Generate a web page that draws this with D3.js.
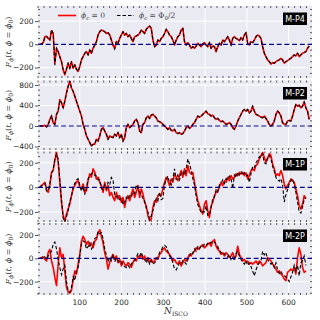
<!DOCTYPE html>
<html>
  <head>
    <script src="https://d3js.org/d3.v7.min.js"></script>
    <style>
      body { margin: 0; background: #fff; }
      text { fill: #262626; }
    </style>
  </head>
  <body>
    <div id="chart"></div>
    <script>
      // sampling of N_ISCO shared by every series
      const nStart = 4.5,
        nStep = 3.98;

      // M-P4
      const p4Red = [0,3,14,66,66,51,37,117,94,-163, -34,-63,-106,-149,-220,-263,-214,-163,-206,-149, -206,-177,-214,-234,-191,-134,-106,-77,-63,-91, -49,-77,-34,-6,23,80,109,123,117,109, 94,100,80,37,-6,-34,23,9,51,80, 109,80,94,66,80,51,23,66,71,80, 94,123,109,94,129,146,157,137,37,-20, -6,37,23,51,66,94,129,109,80,66, 37,-6,37,66,80,123,137,23,-6,14, -6,-34,-20,-34,-14,9,-6,-20,3,14, -6,-20,14,-34,-14,-20,-63,-20,9,-6, 37,23,43,66,37,-6,51,66,51,43, 31,57,37,80,100,9,-6,23,14,37, 66,80,71,51,-20,-77,-106,-134,-149,-171, -157,-163,-149,-140,-134,-120,-134,-163,-149,-140, -129,-120,-106,-91,-100,-77,-106,-91,-77,-71, -63,-34,-14];
      const p4Black = [0,3,14,60,70,51,37,125,94,-180, -34,-63,-106,-149,-220,-250,-214,-163,-206,-149, -206,-177,-214,-234,-191,-134,-106,-77,-63,-91, -49,-77,-34,-6,23,80,109,123,117,109, 94,100,80,37,-6,-40,23,9,51,80, 109,80,94,66,80,51,23,66,71,80, 94,123,109,94,129,146,157,137,37,-20, -6,37,23,51,66,94,129,109,80,66, 37,-6,37,66,80,123,137,23,-6,14, -6,-34,-20,-34,-14,9,-6,-20,3,14, -6,-20,14,-34,-14,-20,-55,-20,9,-6, 37,23,43,66,37,-6,51,66,51,43, 31,57,37,80,100,9,-6,23,14,37, 66,80,71,51,-20,-77,-106,-134,-149,-165, -157,-163,-149,-140,-134,-120,-134,-163,-149,-140, -129,-120,-106,-91,-100,-77,-106,-91,-77,-71, -63,-34,-14];

      // M-P2
      const p2Red = [0,0,0,13,-19,32,129,194,65,32, 226,290,516,452,355,484,645,774,871,742, 677,581,484,387,290,194,32,-65,-194,-258, -323,-387,-355,-355,-258,-290,-194,-65,-32,-97, -161,-258,-194,-213,-226,-161,-194,-129,-226,-161, -290,-226,-32,32,-32,0,32,97,129,65, -97,-129,32,65,161,194,148,213,226,194, 161,97,84,65,32,0,-32,-65,-32,-84, -97,-65,-129,-148,-129,-161,-148,-97,-32,0, -45,-19,32,65,129,194,174,194,226,258, 290,239,226,194,213,161,129,148,110,84, 97,65,32,45,65,32,-32,-65,0,97, 161,226,290,323,290,323,258,290,387,290, 226,213,194,174,161,194,148,97,32,0, 32,97,226,290,258,194,65,32,32,97, 110,97,194,323,419,387,406,355,387,471, 355,290,129];
      const p2Black = [0,0,0,13,-19,32,120,200,65,32, 226,290,500,460,355,484,645,774,880,742, 677,581,484,387,290,194,32,-65,-194,-258, -323,-400,-355,-355,-258,-290,-194,-65,-32,-97, -161,-258,-194,-213,-226,-161,-194,-129,-226,-161, -300,-226,-32,32,-32,0,32,97,129,65, -97,-129,32,65,161,194,148,213,226,194, 161,97,84,65,32,0,-32,-65,-32,-84, -97,-65,-129,-148,-129,-161,-148,-97,-32,0, -45,-19,32,65,129,194,174,194,226,258, 290,239,226,194,213,161,129,148,110,84, 97,65,32,45,65,32,-32,-65,0,97, 161,226,290,323,290,323,258,290,387,290, 226,213,194,174,161,194,148,97,32,0, 32,97,226,290,258,194,65,32,32,97, 110,97,194,323,419,387,406,355,387,471, 355,290,129];

      // M-1P
      const p1Red = [0,14,27,41,-14,-41,14,122,136,218, 285,204,41,-122,-231,-272,-218,-177,-136,-68, -14,14,41,54,0,-14,27,-41,-27,54, 109,82,150,122,68,82,41,14,-41,41, -27,14,-68,-41,-82,-109,-41,-95,-68,-122, -82,-163,-95,-68,-109,-54,-14,-82,-41,14, -82,-14,-54,-122,-150,-231,-272,-258,-163,-109, -122,-68,-54,-68,-14,41,82,54,14,68, 41,109,82,54,95,136,82,150,95,177, 122,109,122,41,-41,-109,-150,-190,-218,-136, -109,-190,-245,-150,-122,-68,-41,-27,0,41, 14,54,41,82,54,95,68,82,109,95, 122,109,122,95,117,68,95,136,150,136, 177,190,231,258,285,245,204,231,272,258, 190,150,95,109,95,136,95,27,-14,14, 41,68,54,41,-14,-68,-150,-177,-136,-68, -95];
      const p1Black = [0,14,27,30,-30,-20,30,110,150,230, 270,230,60,-100,-250,-280,-240,-190,-110,-80, 10,30,60,70,20,-30,10,-60,0,70, 90,110,120,100,90,60,60,-10,-20,20, -10,40,20,80,60,-60,-80,-70,-100,-90, -140,-120,-80,-100,-70,-80,-40,-50,20,-10, -40,-60,-90,-110,-170,-200,-260,-230,-190,-130, -90,-110,-40,-100,-90,20,60,90,40,20, 70,150,60,100,60,110,130,100,150,230, 190,140,70,20,-70,-140,-170,-210,-200,-200, -150,-230,-220,-170,-90,-80,-20,-40,20,30, 60,30,70,60,90,70,-10,100,80,120, 100,130,100,120,90,100,40,110,170,160, 200,220,250,240,270,200,190,250,260,230, 170,130,80,60,50,70,20,-120,-60,-20, 30,50,70,20,-40,-120,-200,-210,-160,-100, -80];

      // M-2P
      const p0Red = [0,6,11,-8,-23,48,76,-23,-79,-163, -234,-51,90,6,34,-107,-248,-290,-299,-276, -192,-107,-135,-51,34,147,189,161,118,146, 104,132,90,146,161,217,245,189,132,48, -8,-93,-37,6,34,-8,20,-37,-8,-65, -23,-51,-65,-37,-51,-79,-37,-8,-23,20, 6,34,-8,20,-23,6,-37,-8,-37,-23, 6,-8,34,48,76,90,62,48,34,6, -23,-8,-37,-51,-23,-65,-37,-8,-23,6, 34,20,48,62,90,76,90,104,118,90, 104,118,132,104,146,161,104,76,62,34, 48,20,48,34,6,20,48,6,20,104, 34,6,-23,-8,-37,-23,-51,-37,-51,-37, -23,-51,-23,-37,-65,-51,-37,6,-8,-23, -51,-65,-93,-121,-107,-135,-149,-178,-192,-121, -107,-93,-107,-79,-135,6,90,34,-79,-121, -107];
      const p0Black = [0,0,20,10,-10,20,40,60,120,140, 80,-10,-80,-140,-90,-60,-200,-280,-290,-250, -160,-190,-110,-80,20,120,150,140,80,100, 130,80,110,170,180,230,210,220,170,80, 30,-30,10,-20,30,-30,0,-20,-40,-30, -60,-70,-80,-60,-80,-50,-30,-20,10,40, 20,50,10,-10,-40,-10,-50,-20,-50,-40, -20,10,50,70,100,110,100,60,20,10, -40,-90,-100,-70,-40,-50,-20,-30,-50,-10, 20,50,40,80,60,100,80,110,100,120, 110,130,120,140,130,140,120,100,70,50, 30,40,20,10,30,-10,10,-20,40,60, 20,-10,-30,-50,-20,-60,-40,-70,-110,-150, -100,-60,-40,-20,60,30,50,-10,-30,-50, -40,-80,-40,-100,-130,-110,-140,-150,-160,-180, -200,-160,-120,-60,-110,-60,-150,-40,-20,20, -60];

      const panelNames = ["M-P4", "M-P2", "M-1P", "M-2P"];
      const redSeries = [p4Red, p2Red, p1Red, p0Red];
      const blackSeries = [p4Black, p2Black, p1Black, p0Black];
      const yDomains = [[-290, 330], [-468, 888], [-282, 291], [-315, 303]];
      const yTickValues = [[-200, 0, 200], [-400, 0, 400, 800], [-200, 0, 200], [-200, 0, 200]];
      const yMinorStep = [50, 100, 50, 50];
      const xTickValues = [100, 200, 300, 400, 500, 600];
      const xDomain = [0, 656];

      const W = 320, H = 320;
      const left = 38, right = 312;
      const tops = [6, 80.5, 151.5, 223];
      const bottoms = [78, 150, 222, 295];

      const svg = d3.select("#chart").append("svg")
        .attr("width", W).attr("height", H)
        .style("font-family", "DejaVu Sans, sans-serif");

      const x = d3.scaleLinear().domain(xDomain).range([left, right]);
      const xMinor = d3.range(0, xDomain[1], 100 / 7);

      panelNames.forEach((name, k) => {
        const top = tops[k], bottom = bottoms[k];
        const y = d3.scaleLinear().domain(yDomains[k]).range([bottom, top]);
        const g = svg.append("g");

        // background + grid
        g.append("rect").attr("x", left).attr("y", top)
          .attr("width", right - left).attr("height", bottom - top)
          .attr("fill", "#eaeaf2");
        g.selectAll(".gx").data(xTickValues).join("line")
          .attr("x1", d => x(d)).attr("x2", d => x(d))
          .attr("y1", top).attr("y2", bottom)
          .attr("stroke", "#fff").attr("stroke-width", 1);
        g.selectAll(".gy").data(yTickValues[k]).join("line")
          .attr("x1", left).attr("x2", right)
          .attr("y1", d => y(d)).attr("y2", d => y(d))
          .attr("stroke", "#fff").attr("stroke-width", 1);

        // minor ticks on all sides, pointing in
        const yMinor = d3.range(Math.ceil(yDomains[k][0] / yMinorStep[k]) * yMinorStep[k], yDomains[k][1], yMinorStep[k]);
        const tk = g.append("g").attr("stroke", "#333").attr("stroke-width", 0.8);
        xMinor.forEach(v => {
          tk.append("line").attr("x1", x(v)).attr("x2", x(v)).attr("y1", top).attr("y2", top + 2);
          tk.append("line").attr("x1", x(v)).attr("x2", x(v)).attr("y1", bottom).attr("y2", bottom - 2);
        });
        yMinor.forEach(v => {
          tk.append("line").attr("x1", left).attr("x2", left + 2).attr("y1", y(v)).attr("y2", y(v));
          tk.append("line").attr("x1", right).attr("x2", right - 2).attr("y1", y(v)).attr("y2", y(v));
        });

        // y axis labels
        const ya = g.append("g").attr("transform", `translate(${left},0)`)
          .call(d3.axisLeft(y).tickValues(yTickValues[k]).tickSize(3).tickPadding(1.5)
            .tickFormat(d => d < 0 ? "\u2212" + Math.abs(d) : d));
        ya.select(".domain").remove();
        ya.selectAll(".tick line").attr("stroke", "#262626").attr("stroke-width", 0.8);
        ya.selectAll("text").style("font-size", "7.5px").attr("fill", "#262626")
          .style("font-family", "DejaVu Sans, sans-serif");

        // clipped lines
        const clipId = "clip" + k;
        svg.append("clipPath").attr("id", clipId).append("rect")
          .attr("x", left).attr("y", top).attr("width", right - left).attr("height", bottom - top);
        const line = d3.line().x((d, i) => x(nStart + i * nStep)).y(d => y(d));
        const lg = g.append("g").attr("clip-path", `url(#${clipId})`);
        lg.append("path").datum(redSeries[k]).attr("d", line)
          .attr("fill", "none").attr("stroke", "#ff0000").attr("stroke-width", 1.6)
          .attr("stroke-linejoin", "round");
        lg.append("path").datum(blackSeries[k]).attr("d", line)
          .attr("fill", "none").attr("stroke", "#000").attr("stroke-width", 1.1)
          .attr("stroke-dasharray", "3.5,2");
        lg.append("line").attr("x1", left).attr("x2", right)
          .attr("y1", y(0)).attr("y2", y(0))
          .attr("stroke", "#00008b").attr("stroke-width", 1.2)
          .attr("stroke-dasharray", "5,2.7");

        // label box
        g.append("rect").attr("x", 283).attr("y", top + 6.5).attr("width", 24).attr("height", 12.5)
          .attr("fill", "#000");
        g.append("text").attr("x", 295).attr("y", top + 15.6).attr("text-anchor", "middle")
          .style("font-size", "8px").style("fill", "#fff").text(name);

        // y label
        const yl = g.append("text")
          .attr("transform", `translate(11,${(top + bottom) / 2}) rotate(-90)`)
          .attr("text-anchor", "middle")
          .style("font-family", "DejaVu Serif, serif").style("font-size", "8px").style("fill", "#333");
        yl.append("tspan").style("font-style", "italic").text("F");
        yl.append("tspan").style("font-style", "italic").style("font-size", "6px").attr("dy", 1.5).text("\u03d5");
        yl.append("tspan").attr("dy", -1.5).text("(");
        yl.append("tspan").style("font-style", "italic").text("t");
        yl.append("tspan").text(", ");
        yl.append("tspan").style("font-style", "italic").text("\u03d5");
        yl.append("tspan").text(" = ");
        yl.append("tspan").style("font-style", "italic").text("\u03d5");
        yl.append("tspan").style("font-size", "6px").attr("dy", 1.5).text("0");
        yl.append("tspan").attr("dy", -1.5).text(")");

        if (k === panelNames.length - 1) {
          g.selectAll(".xl").data(xTickValues).join("text")
            .attr("x", d => x(d)).attr("y", bottom + 9.5)
            .attr("text-anchor", "middle").style("font-size", "7.5px").text(d => d);
        }
      });

      // legend in the top panel
      const lgd = svg.append("g");
      lgd.append("line").attr("x1", 58).attr("x2", 76).attr("y1", 15.5).attr("y2", 15.5)
        .attr("stroke", "#ff0000").attr("stroke-width", 1.6);
      lgd.append("line").attr("x1", 117).attr("x2", 134).attr("y1", 15.5).attr("y2", 15.5)
        .attr("stroke", "#000").attr("stroke-width", 1.2).attr("stroke-dasharray", "3.5,2");
      const t1 = lgd.append("text").attr("x", 81).attr("y", 18.3)
        .style("font-family", "DejaVu Serif, serif").style("font-size", "7.5px").style("fill", "#444");
      t1.append("tspan").style("font-style", "italic").text("\u03d5");
      t1.append("tspan").style("font-style", "italic").style("font-size", "5.5px").attr("dy", 1.5).text("c");
      t1.append("tspan").attr("dy", -1.5).text(" = 0");
      const t2 = lgd.append("text").attr("x", 139).attr("y", 18.3)
        .style("font-family", "DejaVu Serif, serif").style("font-size", "7.5px").style("fill", "#444");
      t2.append("tspan").style("font-style", "italic").text("\u03d5");
      t2.append("tspan").style("font-style", "italic").style("font-size", "5.5px").attr("dy", 1.5).text("c");
      t2.append("tspan").attr("dy", -1.5).text(" = \u03a6");
      t2.append("tspan").style("font-size", "5.5px").attr("dy", 1.5).text("0");
      t2.append("tspan").attr("dy", -1.5).text("/2");

      // x label
      const xl = svg.append("text").attr("x", 164).attr("y", 314)
        .style("font-family", "DejaVu Serif, serif").style("font-size", "9px").style("fill", "#333");
      xl.append("tspan").style("font-style", "italic").text("N");
      xl.append("tspan").style("font-size", "6px").attr("dy", 2).text("ISCO");
    </script>
  </body>
</html>
